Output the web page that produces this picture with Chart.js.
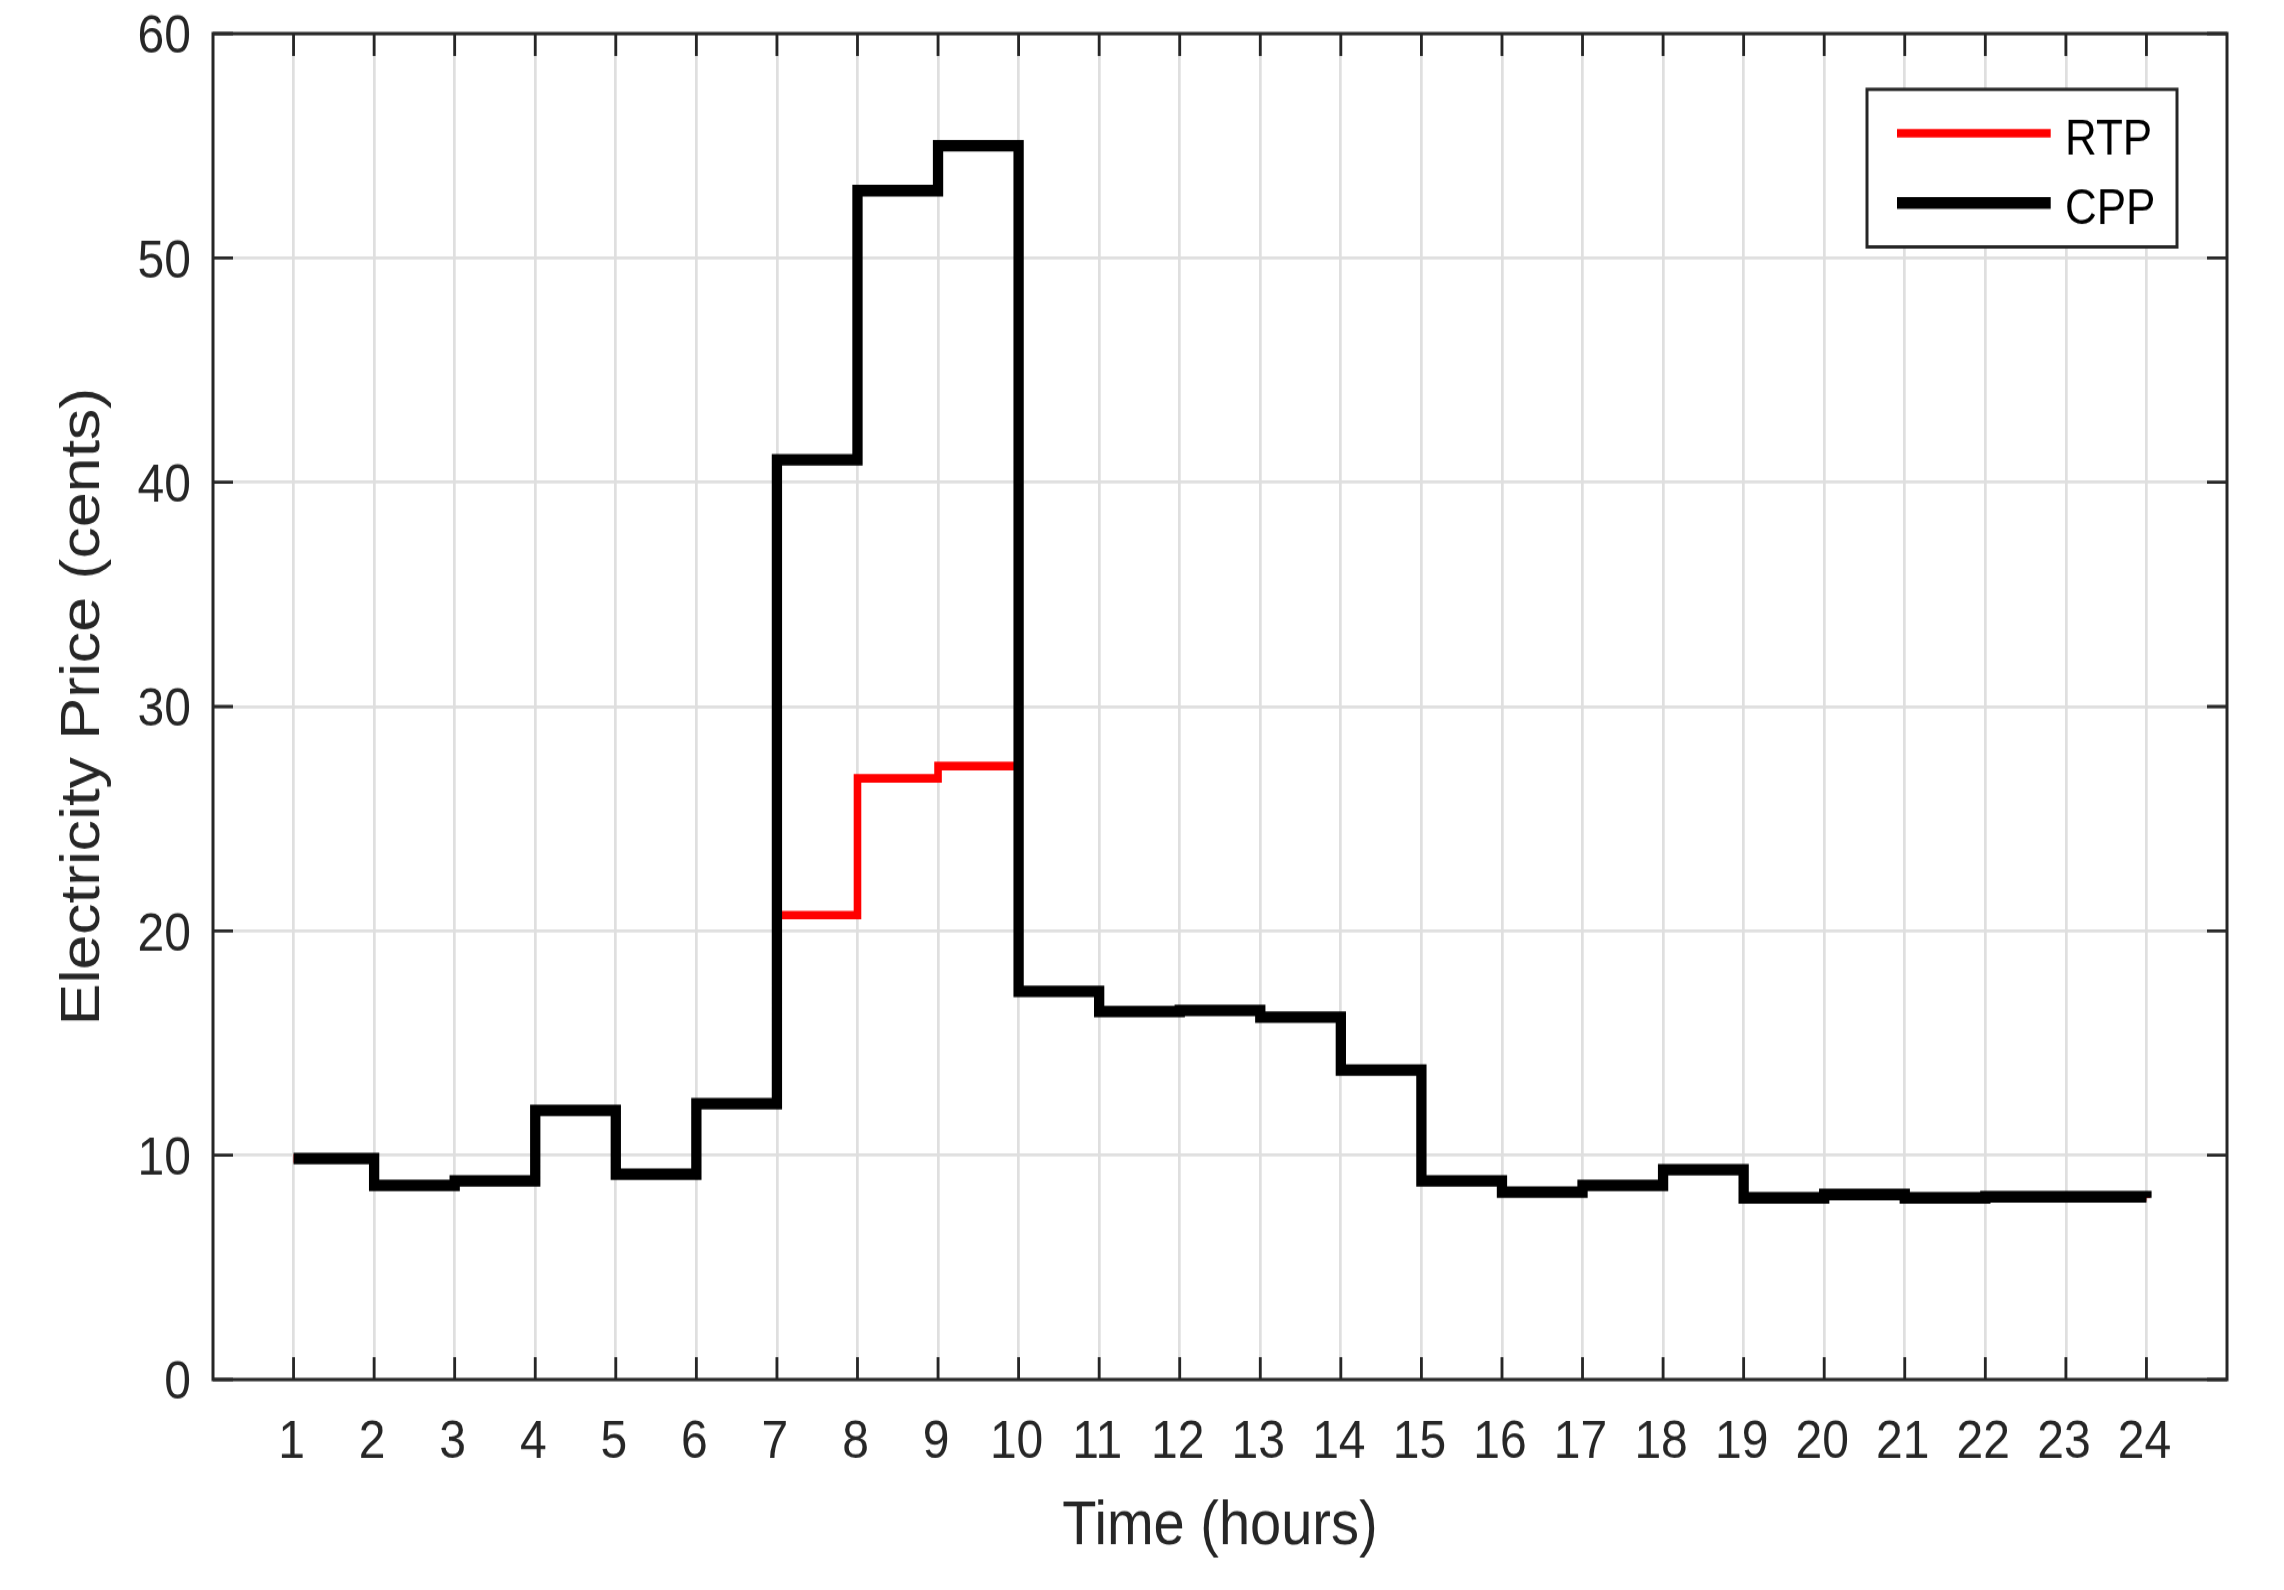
<!DOCTYPE html>
<html>
<head>
<meta charset="utf-8">
<title>Electricity Price</title>
<script src="https://cdn.jsdelivr.net/npm/chart.js@4.4.1/dist/chart.umd.min.js"></script>
<style>
  html, body { margin: 0; padding: 0; background: #fff; overflow: hidden; }
</style>
</head>
<body>
<!-- drawn at 1420 high, stretched to 1590 like the original figure -->
<canvas id="myChart" width="2284" height="1420" style="width:2284px;height:1590px;display:block"></canvas>
<script>
// data
const hours = [1, 2, 3, 4, 5, 6, 7, 8, 9, 10, 11, 12, 13, 14, 15, 16, 17, 18, 19, 20, 21, 22, 23, 24];
const rtpPrice = [9.85, 8.65, 8.85, 12.0, 9.15, 12.3, 20.7, 26.8, 27.35, 17.3, 16.4, 16.45,
  16.15, 13.8, 8.85, 8.35, 8.65, 9.35, 8.1, 8.25, 8.1, 8.15, 8.15, 8.1];
const cppPrice = [9.85, 8.65, 8.85, 12.0, 9.15, 12.3, 41, 53, 55, 17.3, 16.4, 16.45,
  16.15, 13.8, 8.85, 8.35, 8.65, 9.35, 8.1, 8.25, 8.1, 8.15, 8.15, 8.1];
const yTicks = [0, 10, 20, 30, 40, 50, 60];

const axisColor = "#262626";
const gridColor = "#dfdfdf";

Chart.defaults.font.family = "'Liberation Sans', Arial, Helvetica, sans-serif";
Chart.defaults.color = axisColor;

// for box, inward ticks and legend
const matlabAxes = {
  id: "matlabAxes",
  beforeDatasetsDraw(chart) {
    const { ctx, chartArea: a, scales } = chart;
    const len = 20;
    ctx.save();
    ctx.strokeStyle = axisColor;
    ctx.lineWidth = 2.8;
    ctx.beginPath();
    hours.forEach(h => {
      const x = scales.x.getPixelForValue(h);
      ctx.moveTo(x, a.bottom);
      ctx.lineTo(x, a.bottom - len);
      ctx.moveTo(x, a.top);
      ctx.lineTo(x, a.top + len);
    });
    yTicks.forEach(v => {
      const y = scales.y.getPixelForValue(v);
      ctx.moveTo(a.left, y);
      ctx.lineTo(a.left + len, y);
      ctx.moveTo(a.right, y);
      ctx.lineTo(a.right - len, y);
    });
    ctx.stroke();
    ctx.restore();
  },
  afterDatasetsDraw(chart) {
    const { ctx, chartArea: a } = chart;
    ctx.save();
    ctx.strokeStyle = axisColor;
    ctx.lineWidth = 3;
    ctx.strokeRect(a.left, a.top, a.right - a.left, a.bottom - a.top);

    // legend
    const box = { x: 1867, y: 79.8, w: 310, h: 140.7 };
    ctx.fillStyle = "#fff";
    ctx.fillRect(box.x, box.y, box.w, box.h);
    ctx.strokeRect(box.x, box.y, box.w, box.h);
    const rows = [119, 181.25];
    chart.data.datasets.forEach((ds, i) => {
      const y = rows[i];
      ctx.strokeStyle = ds.borderColor;
      ctx.lineWidth = i === 0 ? 7.7 : 10.7;
      ctx.beginPath();
      ctx.moveTo(1897, y);
      ctx.lineTo(2050.7, y);
      ctx.stroke();
      ctx.fillStyle = "#000";
      ctx.font = "44px 'Liberation Sans', Arial, sans-serif";
      ctx.textBaseline = "alphabetic";
      ctx.textAlign = "left";
      ctx.fillText(ds.label, 2065, y + 18.5);
    });
    ctx.restore();
  }
};

// for chart
const ctx = document.getElementById("myChart").getContext("2d");

const data = {
  datasets: [
    {
      label: "RTP",
      data: hours.map((h, i) => ({ x: h, y: rtpPrice[i] })),
      borderColor: "#ff0000",
      borderWidth: 7.6,
      stepped: true,
      order: 1,
    },
    {
      label: "CPP",
      data: hours.map((h, i) => ({ x: h, y: cppPrice[i] })),
      borderColor: "#000000",
      borderWidth: 10.3,
      stepped: true,
      order: 0,
    },
  ],
};

const options = {
  responsive: false,
  animation: false,
  devicePixelRatio: 1,
  layout: {
    padding: { top: 30, right: 57, bottom: 0, left: 0 },
  },
  elements: {
    point: { radius: 0 },
    line: { tension: 0, fill: false, borderJoinStyle: "miter", borderCapStyle: "butt" },
  },
  plugins: {
    legend: { display: false },
    tooltip: { enabled: false },
  },
  scales: {
    x: {
      type: "linear",
      min: 0,
      max: 25,
      afterBuildTicks: s => {
        s.ticks = hours.map(h => ({ value: h }));
      },
      afterFit: s => {
        s.height = 188;
        s.paddingLeft = 0;
        s.paddingRight = 0;
      },
      grid: { color: gridColor, lineWidth: 2.7, drawTicks: false },
      border: { display: false },
      ticks: {
        font: { size: 48, lineHeight: 1.2 },
        padding: 28,
        labelOffset: -2,
        maxRotation: 0,
        autoSkip: false,
      },
      title: {
        display: true,
        text: "Time (hours)",
        font: { size: 56, lineHeight: 1.2 },
        padding: { top: 0, bottom: 23 },
      },
    },
    y: {
      min: 0,
      max: 60,
      afterBuildTicks: s => {
        s.ticks = yTicks.map(v => ({ value: v }));
      },
      afterFit: s => {
        s.width = 213;
        s.paddingTop = 0;
        s.paddingBottom = 0;
      },
      grid: { color: gridColor, lineWidth: 2.7, drawTicks: false },
      border: { display: false },
      ticks: {
        font: { size: 48, lineHeight: 1.2 },
        padding: 22,
        labelOffset: 4,
      },
      title: {
        display: true,
        text: "Electricity Price (cents)",
        font: { size: 56, lineHeight: 1.2 },
        padding: { top: 50, bottom: 0 },
      },
    },
  },
};

new Chart(ctx, {
  type: "line",
  data: data,
  options: options,
  plugins: [matlabAxes],
});
</script>
</body>
</html>
